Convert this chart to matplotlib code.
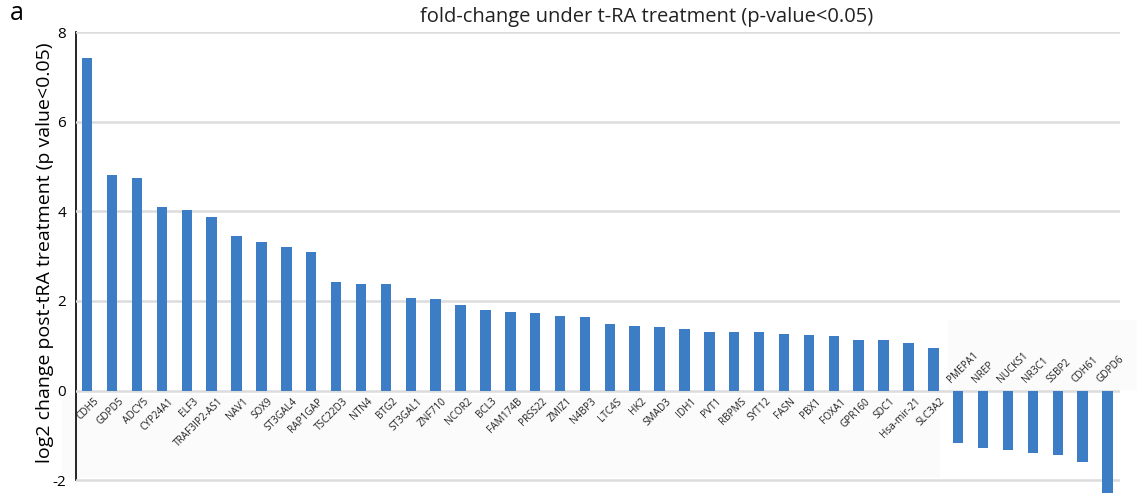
import matplotlib
matplotlib.use("Agg")
import matplotlib.pyplot as plt
from matplotlib.patches import Rectangle

genes = ["CDH5", "GDPD5", "ADCY5", "CYP24A1", "ELF3", "TRAF3IP2-AS1", "NAV1", "SOX9",
         "ST3GAL4", "RAP1GAP", "TSC22D3", "NTN4", "BTG2", "ST3GAL1", "ZNF710", "NCOR2",
         "BCL3", "FAM174B", "PRSS22", "ZMIZ1", "N4BP3", "LTC4S", "HK2", "SMAD3", "IDH1",
         "PVT1", "RBPMS", "SYT12", "FASN", "PBX1", "FOXA1", "GPR160", "SDC1", "Hsa-mir-21",
         "SLC3A2", "PMEPA1", "NREP", "NUCKS1", "NR3C1", "SSBP2", "CDH61", "GDPD6"]
log2_change = [7.42, 4.81, 4.74, 4.10, 4.03, 3.88, 3.45, 3.32,
               3.21, 3.10, 2.43, 2.38, 2.38, 2.07, 2.05, 1.92,
               1.80, 1.76, 1.74, 1.67, 1.65, 1.49, 1.45, 1.43, 1.38,
               1.31, 1.31, 1.31, 1.27, 1.25, 1.22, 1.14, 1.14, 1.07,
               0.96, -1.16, -1.28, -1.33, -1.39, -1.43, -1.59, -2.28]
yticks = [-2, 0, 2, 4, 6, 8]
title = "fold-change under t-RA treatment (p-value<0.05)"
ylabel = "log2 change post-tRA treatment (p value<0.05)"

plt.rcParams['font.family'] = ['Open Sans', 'DejaVu Sans']

W, H = 1137, 496
fig = plt.figure(figsize=(W / 100, H / 100), dpi=100)

ax = fig.add_axes([76 / W, 0.0, (1120 - 76) / W, 464 / H])
ax.patch.set_alpha(0)

# faint label background panels (behind everything in the axes)
ax.add_patch(Rectangle((62 / W, 1 - 478 / H), (940 - 62) / W, (478 - 395) / H,
                       transform=fig.transFigure, facecolor='#fbfbfb', edgecolor='none',
                       zorder=0.1, clip_on=False))
ax.add_patch(Rectangle((948 / W, 1 - 390 / H), (1137 - 948) / W, (390 - 320) / H,
                       transform=fig.transFigure, facecolor='#fbfbfb', edgecolor='none',
                       zorder=0.1, clip_on=False))

x = list(range(len(genes)))
ax.bar(x, log2_change, width=0.42, color='#3d7dc5', zorder=3, clip_on=False)

ax.set_xlim(-0.45, len(genes) - 0.5)
ax.set_ylim(-2.35, 8)
ax.set_yticks(yticks)
ax.set_yticklabels([str(t) for t in yticks], fontsize=11)
ax.tick_params(axis='y', length=0, pad=7)
ax.set_xticks([])
ax.grid(axis='y', color='#dcdcdc', linewidth=1.8, zorder=0.5)
ax.set_axisbelow(False)
for s in ['top', 'right', 'bottom']:
    ax.spines[s].set_visible(False)
ax.spines['left'].set_bounds(-2, 8)
ax.spines['left'].set_linewidth(1.2)
ax.spines['left'].set_color('black')

for xi, g, v in zip(x, genes, log2_change):
    if v >= 0:
        ax.text(xi + 0.25, -0.12, g, rotation=45, ha='right', va='top',
                fontsize=7.2, color='#222222', rotation_mode='anchor', zorder=5)
    else:
        ax.text(xi - 0.2, 0.12, g, rotation=45, ha='left', va='bottom',
                fontsize=7.2, color='#222222', rotation_mode='anchor', zorder=5)

ax.set_ylabel(ylabel, fontsize=14, va='center')
ax.yaxis.set_label_coords((45 - 76) / (1120 - 76), 243 / 464)
fig.text(647 / W, 1 - 17 / H, title, ha='center', va='center', fontsize=14.5, color='#222222')
fig.text(10 / W, 1 - 14 / H, "a", ha='left', va='center', fontsize=18)

fig.savefig("out.png", dpi=100)
